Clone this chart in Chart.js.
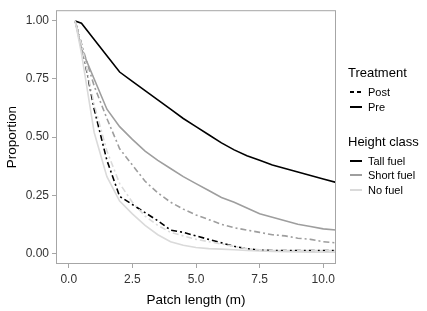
<!DOCTYPE html>
<html>
<head>
<meta charset="utf-8">
<script src="https://cdn.jsdelivr.net/npm/chart.js@4"></script>
<style>
    body { margin: 0; background: #fff; font-family: "Liberation Sans", Arial, sans-serif; }
    #wrap { position: relative; width: 427px; height: 311px; }
    .lg-title { position: absolute; left: 348px; font-size: 13px; color: #000; }
    .lg-item { position: absolute; left: 350px; font-size: 11px; color: #000; line-height: 13px; }
    .lg-item span.key { display: inline-block; width: 12px; height: 2px; vertical-align: middle; margin-right: 6px; margin-top: -2px; }
</style>
</head>
<body>
<div id="wrap">
    <canvas id="decay-chart" width="427" height="311"></canvas>
    <div class="lg-title" style="top:65px">Treatment</div>
    <div class="lg-item" style="top:86px"><span class="key" style="background:linear-gradient(to right,#000 0,#000 4px,transparent 4px,transparent 7px,#000 7px,#000 11px,transparent 11px)"></span>Post</div>
    <div class="lg-item" style="top:101px"><span class="key" style="background:#000"></span>Pre</div>
    <div class="lg-title" style="top:134px">Height class</div>
    <div class="lg-item" style="top:155px"><span class="key" style="background:#000"></span>Tall fuel</div>
    <div class="lg-item" style="top:169px"><span class="key" style="background:#9e9e9e"></span>Short fuel</div>
    <div class="lg-item" style="top:184px"><span class="key" style="background:#dadada"></span>No fuel</div>
</div>
<script>
var patch_length = [0.25, 0.5, 1, 1.5, 2, 2.5, 3, 3.5, 4, 4.5, 5, 5.5, 6, 6.5, 7, 7.5, 8, 8.5, 9, 9.5, 10, 10.5];

var tall_pre   = [1.00, 0.99, 0.92, 0.85, 0.78, 0.74, 0.70, 0.66, 0.62, 0.58, 0.545, 0.51, 0.475, 0.445, 0.42, 0.40, 0.38, 0.365, 0.35, 0.335, 0.32, 0.305];
var short_pre  = [1.00, 0.88, 0.75, 0.62, 0.545, 0.49, 0.44, 0.40, 0.365, 0.33, 0.30, 0.27, 0.24, 0.22, 0.195, 0.17, 0.155, 0.14, 0.125, 0.115, 0.105, 0.10];
var no_pre     = [1.00, 0.86, 0.52, 0.33, 0.225, 0.17, 0.12, 0.08, 0.05, 0.035, 0.025, 0.02, 0.018, 0.015, 0.012, 0.01, 0.008, 0.007, 0.006, 0.005, 0.005, 0.005];
var tall_post  = [1.00, 0.90, 0.62, 0.40, 0.245, 0.21, 0.175, 0.14, 0.10, 0.09, 0.075, 0.06, 0.045, 0.03, 0.02, 0.013, 0.012, 0.012, 0.012, 0.012, 0.012, 0.012];
var short_post = [1.00, 0.90, 0.72, 0.58, 0.45, 0.38, 0.31, 0.26, 0.22, 0.19, 0.165, 0.145, 0.125, 0.11, 0.10, 0.09, 0.08, 0.075, 0.065, 0.06, 0.05, 0.045];
var no_post    = [1.00, 0.90, 0.64, 0.44, 0.30, 0.22, 0.16, 0.12, 0.09, 0.075, 0.06, 0.05, 0.04, 0.03, 0.02, 0.015, 0.012, 0.012, 0.012, 0.012, 0.012, 0.012];

var x_ticks = [0, 2.5, 5, 7.5, 10];
var y_ticks = [0, 0.25, 0.5, 0.75, 1];

var colors = { tall: '#000000', short: '#9e9e9e', none: '#dadada' };
var dotdash = [2, 3, 6, 3];

function makeSeries(label, values, color, dashed) {
    var pts = [];
    for (var i = 0; i < patch_length.length; i++) {
        pts.push({ x: patch_length[i], y: values[i] });
    }
    return {
        label: label,
        data: pts,
        borderColor: color,
        borderWidth: 1.6,
        borderDash: dashed ? dotdash : [],
        pointRadius: 0,
        tension: 0,
        fill: false
    };
}

var panelBorder = {
    id: 'panelBorder',
    afterDraw: function (chart) {
        var a = chart.chartArea, ctx = chart.ctx;
        ctx.save();
        ctx.strokeStyle = '#a6a6a6';
        ctx.lineWidth = 1;
        ctx.strokeRect(a.left + 0.5, a.top + 0.5, a.right - a.left - 1, a.bottom - a.top - 1);
        ctx.restore();
    }
};

var tickFont = { family: 'Liberation Sans, Arial, sans-serif', size: 12 };
var titleFont = { family: 'Liberation Sans, Arial, sans-serif', size: 13.5 };

new Chart(document.getElementById('decay-chart'), {
    type: 'line',
    data: {
        datasets: [
            makeSeries('No fuel Pre', no_pre, colors.none, false),
            makeSeries('No fuel Post', no_post, colors.none, true),
            makeSeries('Short fuel Pre', short_pre, colors.short, false),
            makeSeries('Short fuel Post', short_post, colors.short, true),
            makeSeries('Tall fuel Pre', tall_pre, colors.tall, false),
            makeSeries('Tall fuel Post', tall_post, colors.tall, true)
        ]
    },
    plugins: [panelBorder],
    options: {
        responsive: false,
        animation: false,
        layout: { padding: { top: 2, right: 91, left: 0, bottom: 0 } },
        plugins: { legend: { display: false }, tooltip: { enabled: false } },
        scales: {
            x: {
                type: 'linear',
                min: -0.5,
                max: 10.5,
                afterBuildTicks: function (scale) {
                    scale.ticks = x_ticks.map(function (v) { return { value: v }; });
                },
                afterFit: function (scale) { scale.height = 47; },
                ticks: {
                    color: '#333',
                    font: tickFont,
                    padding: 4,
                    maxRotation: 0,
                    callback: function (v) { return v.toFixed(1); }
                },
                grid: { drawOnChartArea: false, tickLength: 4, color: '#a6a6a6' },
                border: { display: false },
                title: { display: true, text: 'Patch length (m)', color: '#000', font: titleFont, padding: { top: 0, bottom: 3 } }
            },
            y: {
                type: 'linear',
                min: -0.046,
                max: 1.046,
                afterBuildTicks: function (scale) {
                    scale.ticks = y_ticks.map(function (v) { return { value: v }; });
                },
                afterFit: function (scale) { scale.width = 56; },
                ticks: {
                    color: '#333',
                    font: tickFont,
                    padding: 3,
                    callback: function (v) { return v.toFixed(2); }
                },
                grid: { drawOnChartArea: false, tickLength: 4, color: '#a6a6a6' },
                border: { display: false },
                title: { display: true, text: 'Proportion', color: '#000', font: titleFont, padding: { top: 4, bottom: 0 } }
            }
        }
    }
});
</script>
</body>
</html>
